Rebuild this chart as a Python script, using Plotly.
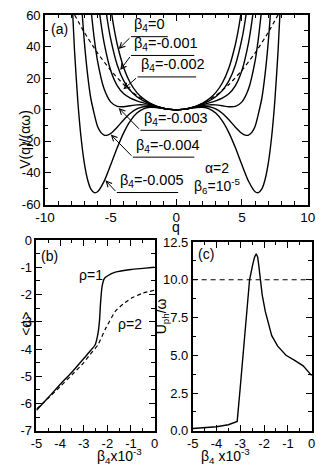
import plotly.graph_objects as go

# ---------- panel (a): V(q)/(alpha*omega) ----------
q_b0 = [-5, -4.75, -4.5, -4, -3.5, -3, -2.5, -2, -1.5, -1, -0.5, 0,
        0.5, 1, 1.5, 2, 2.5, 3, 3.5, 4, 4.5, 4.75, 5]
v_b0 = [65.0, 51.97, 41.51, 26.49, 16.96, 10.87, 6.88, 4.16, 2.28, 1.0, 0.25, 0,
        0.25, 1.0, 2.28, 4.16, 6.88, 10.87, 16.96, 26.49, 41.51, 51.97, 65.0]

q_b1 = [-5.5, -5.25, -5, -4.5, -4, -3.5, -3, -2.5, -2, -1.5, -1, -0.5, 0,
        0.5, 1, 1.5, 2, 2.5, 3, 3.5, 4, 4.5, 5, 5.25, 5.5]
v_b1 = [71.83, 56.85, 45.0, 28.39, 18.29, 12.15, 8.27, 5.63, 3.65, 2.12, 0.97, 0.25, 0,
        0.25, 0.97, 2.12, 3.65, 5.63, 8.27, 12.15, 18.29, 28.39, 45.0, 56.85, 71.83]

q_b2 = [-6, -5.75, -5.5, -5, -4.5, -4, -3.5, -3, -2.5, -2, -1.5, -1, -0.5, 0,
        0.5, 1, 1.5, 2, 2.5, 3, 3.5, 4, 4.5, 5, 5.5, 5.75, 6]
v_b2 = [72.5, 55.62, 42.55, 25.0, 15.27, 10.10, 7.35, 5.68, 4.38, 3.14, 1.96, 0.94, 0.25, 0,
        0.25, 0.94, 1.96, 3.14, 4.38, 5.68, 7.35, 10.10, 15.27, 25.0, 42.55, 55.62, 72.5]

q_b3 = [-6.5, -6.25, -6, -5.5, -5, -4.5, -4, -3.5, -3, -2.5, -2, -1.5, -1, -0.5, 0,
        0.5, 1, 1.5, 2, 2.5, 3, 3.5, 4, 4.5, 5, 5.5, 6, 6.25, 6.5]
v_b3 = [63.95, 45.17, 31.02, 13.26, 5.0, 2.14, 1.91, 2.55, 3.09, 3.13, 2.63, 1.79, 0.91, 0.24, 0,
        0.24, 0.91, 1.79, 2.63, 3.13, 3.09, 2.55, 1.91, 2.14, 5.0, 13.26, 31.02, 45.17, 63.95]

q_b4 = [-7.25, -7, -6.75, -6.5, -6, -5.75, -5.5, -5.25, -5, -4.5, -4, -3.5, -3, -2.5, -2, -1.5, -1, -0.5, 0,
        0.5, 1, 1.5, 2, 2.5, 3, 3.5, 4, 4.5, 5, 5.25, 5.5, 5.75, 6, 6.5, 6.75, 7, 7.25]
v_b4 = [70.7, 42.85, 21.98, 6.83, -10.45, -14.34, -16.02, -16.08, -15.0, -11.0, -6.28, -2.25, 0.50, 1.88, 2.12, 1.63, 0.88, 0.24, 0,
        0.24, 0.88, 1.63, 2.12, 1.88, 0.50, -2.25, -6.28, -11.0, -15.0, -16.08, -16.02, -14.34, -10.45, 6.83, 21.98, 42.85, 70.7]

q_b5 = [-8, -7.75, -7.5, -7.25, -7, -6.75, -6.5, -6.25, -6, -5.5, -5, -4.5, -4, -3.5, -3, -2.5, -2, -1.5, -1, -0.5, 0,
        0.5, 1, 1.5, 2, 2.5, 3, 3.5, 4, 4.5, 5, 5.5, 6, 6.25, 6.5, 6.75, 7, 7.25, 7.5, 7.75, 8]
v_b5 = [79.7, 37.56, 5.6, -17.72, -33.98, -44.44, -50.29, -52.49, -51.92, -45.3, -35.0, -24.1, -14.47, -7.05, -2.09, 0.63, 1.60, 1.47, 0.84, 0.24, 0,
        0.24, 0.84, 1.47, 1.60, 0.63, -2.09, -7.05, -14.47, -24.1, -35.0, -45.3, -51.92, -52.49, -50.29, -44.44, -33.98, -17.72, 5.6, 37.56, 79.7]

q_harm = [-8, -7, -6, -5, -4, -3, -2, -1, 0, 1, 2, 3, 4, 5, 6, 7, 8]
v_harm = [64, 49, 36, 25, 16, 9, 4, 1, 0, 1, 4, 9, 16, 25, 36, 49, 64]

# label boxes in panel (a): underline start/end, height, and where the arrow points
beta_labels = ["β<sub>4</sub>=0", "β<sub>4</sub>=-0.001", "β<sub>4</sub>=-0.002",
               "β<sub>4</sub>=-0.003", "β<sub>4</sub>=-0.004", "β<sub>4</sub>=-0.005"]
lab_line_x0 = [-3.45, -3.45, -2.95, -2.73, -3.31, -4.53]
lab_line_x1 = [-0.65, 1.37, 1.51, 1.94, 1.37, 0.14]
lab_line_y = [46.3, 34.4, 20.8, -13.0, -30.0, -52.4]
lab_tip_x = [-4.39, -4.27, -4.03, -4.39, -4.99, -5.40]
lab_tip_y = [38.5, 25.2, 13.0, 1.1, -15.7, -44.7]

# ---------- panel (b): <q> ----------
b_beta_rho1 = [-5, -4.5, -4, -3.5, -3, -2.75, -2.52, -2.4, -2.33, -2.29, -2.23, -2.17, -2.12, -2.0,
               -1.66, -1.0, -0.5, 0]
b_q_rho1 = [-6.25, -5.78, -5.3, -4.85, -4.35, -4.1, -3.85, -3.45, -2.94, -2.35, -1.75, -1.5, -1.4, -1.32,
            -1.18, -1.08, -1.04, -1.0]
b_beta_rho2 = [-5, -4.5, -4, -3.5, -3, -2.75, -2.4, -2.08, -1.65, -1.3, -0.98, -0.5, 0]
b_q_rho2 = [-6.2, -5.8, -5.38, -4.95, -4.5, -4.22, -3.85, -3.26, -2.6, -2.33, -2.13, -1.95, -1.84]

# ---------- panel (c): U_ph/omega ----------
c_beta = [-5, -4.5, -4, -3.5, -3.3, -3.13, -3.0, -2.87, -2.75, -2.61, -2.47, -2.4, -2.33, -2.27,
          -2.22, -2.16, -2.08, -1.95, -1.83, -1.68, -1.43, -1.08, -0.7, -0.36, 0]
c_u = [0.15, 0.2, 0.27, 0.4, 0.5, 0.62, 2.9, 5.3, 7.6, 10.0, 11.07, 11.5, 11.72, 11.5,
       10.9, 10.0, 9.0, 7.9, 7.2, 6.3, 5.6, 5.0, 4.65, 4.3, 3.65]
c_ref_beta = [-5, 0]
c_ref_u = [10, 10]

# tick labels
a_xticks = [-10, -5, 0, 5, 10]
a_xtext = ["-10", "-5", "0", "5", "10"]
a_yticks = [-60, -40, -20, 0, 20, 40, 60]
a_ytext = ["-60", "-40", "-20", "0", "20", "40", "60"]
bc_xticks = [-5, -4, -3, -2, -1, 0]
bc_xtext = ["-5", "-4", "-3", "-2", "-1", "0"]
b_yticks = [-7, -6, -5, -4, -3, -2, -1, 0]
b_ytext = ["-7", "-6", "-5", "-4", "-3", "-2", "-1", "0"]
c_yticks = [0, 2.5, 5, 7.5, 10, 12.5]
c_ytext = ["0.0", "2.5", "5.0", "7.5", "10.0", "12.5"]

FONT = "Liberation Sans, Arial, sans-serif"
W, H = 327, 472

fig = go.Figure()
solid = dict(color="black", width=1.4)

for qq, vv in [(q_b0, v_b0), (q_b1, v_b1), (q_b2, v_b2), (q_b3, v_b3), (q_b4, v_b4), (q_b5, v_b5)]:
    fig.add_trace(go.Scatter(x=qq, y=vv, mode="lines", line=dict(shape="spline", smoothing=0.6, **solid),
                             xaxis="x", yaxis="y", showlegend=False))
fig.add_trace(go.Scatter(x=q_harm, y=v_harm, mode="lines",
                         line=dict(color="black", width=1.2, dash="4px,3px", shape="spline", smoothing=0.6),
                         xaxis="x", yaxis="y", showlegend=False))

fig.add_trace(go.Scatter(x=b_beta_rho1, y=b_q_rho1, mode="lines", line=dict(shape="spline", smoothing=0.5, **solid),
                         xaxis="x2", yaxis="y2", showlegend=False))
fig.add_trace(go.Scatter(x=b_beta_rho2, y=b_q_rho2, mode="lines",
                         line=dict(color="black", width=1.2, dash="4px,3px", shape="spline", smoothing=0.5),
                         xaxis="x2", yaxis="y2", showlegend=False))

fig.add_trace(go.Scatter(x=c_beta, y=c_u, mode="lines", line=solid,
                         xaxis="x3", yaxis="y3", showlegend=False))
fig.add_trace(go.Scatter(x=c_ref_beta, y=c_ref_u, mode="lines",
                         line=dict(color="black", width=1.2, dash="5px,4px"),
                         xaxis="x3", yaxis="y3", showlegend=False))


def ax(domain, rng, tv, tt, minor, anchor, fs=13):
    return dict(domain=domain, range=rng, anchor=anchor, tickmode="array", tickvals=tv, ticktext=tt,
                ticks="inside", ticklen=6, tickwidth=1, tickcolor="black",
                showline=True, linecolor="black", linewidth=1.5, mirror="allticks",
                showgrid=False, zeroline=False,
                minor=dict(dtick=minor, tick0=0, ticks="inside", ticklen=3.5, tickwidth=1, tickcolor="black"),
                tickfont=dict(family=FONT, size=fs, color="black"))


fig.update_layout(
    width=W, height=H, autosize=False,
    margin=dict(l=0, r=0, t=0, b=0),
    paper_bgcolor="white", plot_bgcolor="white",
    xaxis=ax([37 / W, 315 / W], [-10, 10], a_xticks, a_xtext, 1, "y", fs=13.5),
    yaxis=ax([1 - 204 / H, 1 - 8.3 / H], [-60, 60], a_yticks, a_ytext, 10, "x"),
    xaxis2=ax([28 / W, 153 / W], [-5, 0], bc_xticks, bc_xtext, 0.5, "y2"),
    yaxis2=ax([1 - 437.7 / H, 1 - 240.7 / H], [-7, 0], b_yticks, b_ytext, 0.5, "x2"),
    xaxis3=ax([193.3 / W, 319.3 / W], [-5, 0], bc_xticks, bc_xtext, 0.5, "y3"),
    yaxis3=ax([1 - 437.7 / H, 1 - 242.7 / H], [0, 12.5], c_yticks, c_ytext, 1.25, "x3"),
)

ann = []
shapes = []
lab_font = dict(family=FONT, size=14.5, color="black")
txt_font = dict(family=FONT, size=14, color="black")
for i in range(len(beta_labels)):
    shapes.append(dict(type="line", xref="x", yref="y", x0=lab_line_x0[i], x1=lab_line_x1[i],
                       y0=lab_line_y[i], y1=lab_line_y[i], line=dict(color="black", width=1)))
    ann.append(dict(xref="x", yref="y", x=lab_line_x0[i] + 0.1, y=lab_line_y[i] + 0.3, text=beta_labels[i],
                    xanchor="left", yanchor="bottom", showarrow=False, font=lab_font))
    ann.append(dict(xref="x", yref="y", axref="x", ayref="y", x=lab_tip_x[i], y=lab_tip_y[i],
                    ax=lab_line_x0[i], ay=lab_line_y[i], text="", showarrow=True,
                    arrowhead=5, arrowsize=1.1, arrowwidth=1, arrowcolor="black", standoff=0))

ann += [
    dict(xref="x", yref="y", x=-8.92, y=51.3, text="(a)", showarrow=False, font=txt_font),
    dict(xref="x", yref="y", x=3.17, y=-43.4, text="α=2<br>β<sub>6</sub>=10<sup>-5</sup>",
         showarrow=False, font=txt_font, align="center"),
    dict(xref="x2", yref="y2", x=-4.44, y=-0.58, text="(b)", showarrow=False, font=txt_font),
    dict(xref="x2", yref="y2", x=-2.71, y=-1.29, text="ρ=1", showarrow=False, font=txt_font),
    dict(xref="x2", yref="y2", x=-1.03, y=-3.07, text="ρ=2", showarrow=False, font=txt_font),
    dict(xref="x3", yref="y3", x=-4.42, y=11.7, text="(c)", showarrow=False, font=txt_font),
    # axis titles
    dict(xref="paper", yref="paper", x=6 / W, y=1 - 104 / H, text="V(q)/(αω)", textangle=-90,
         showarrow=False, font=txt_font),
    dict(xref="paper", yref="paper", x=176 / W, y=1 - 227 / H, text="q", showarrow=False, font=txt_font),
    dict(xref="paper", yref="paper", x=6 / W, y=1 - 342 / H, text="&lt;q&gt;", textangle=-90,
         showarrow=False, font=txt_font),
    dict(xref="paper", yref="paper", x=90 / W, y=-0.009, yanchor="bottom", text="β<sub>4</sub>x10<sup>-3</sup>",
         showarrow=False, font=txt_font),
    dict(xref="paper", yref="paper", x=161 / W, y=1 - 340 / H, text="U<sub>ph</sub>/ω", textangle=-90,
         showarrow=False, font=txt_font),
    dict(xref="paper", yref="paper", x=256 / W, y=-0.009, yanchor="bottom", text="β<sub>4</sub> x10<sup>-3</sup>",
         showarrow=False, font=txt_font),
]
fig.update_layout(annotations=ann, shapes=shapes)

# page body has a default 8px margin; drop it so the figure sits at the window corner
fig.write_html("out.html", config={"displayModeBar": False},
               post_script="document.body.style.margin='0px';")
